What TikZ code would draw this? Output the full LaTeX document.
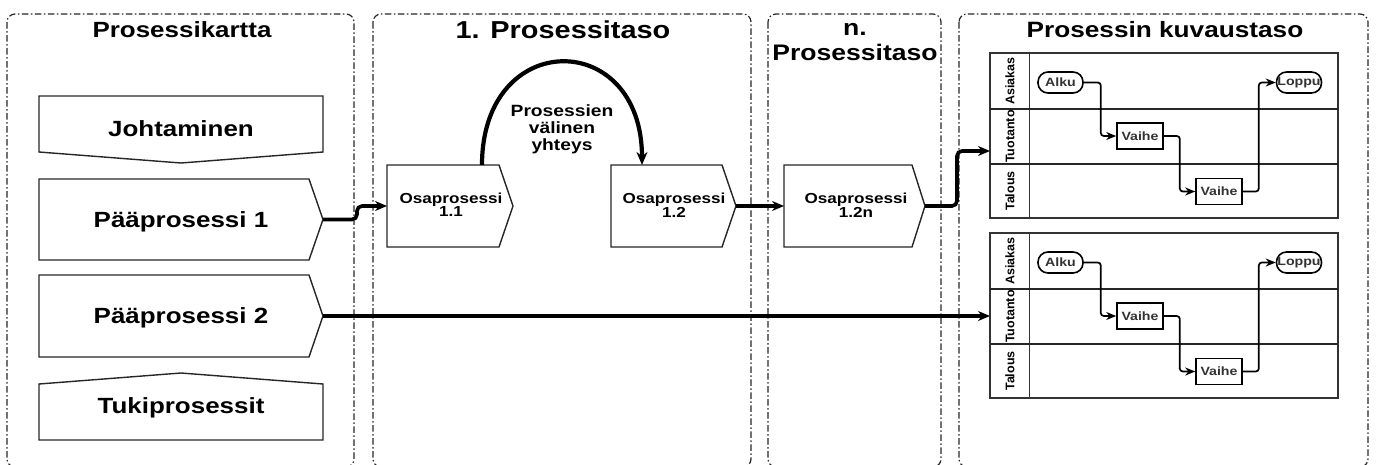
\documentclass[tikz,border=0pt]{standalone}
\usepackage{fontspec}
\setmainfont{Liberation Sans}[FakeStretch=1.18]
\newfontfamily\lanefont{Liberation Sans}
\usetikzlibrary{arrows.meta,calc}
\begin{document}
\begin{tikzpicture}[x=1pt,y=-1pt,
  container/.style={draw=black!85, line width=1.2pt, rounded corners=8pt,
    dash pattern=on 6.5pt off 2.5pt on 1.5pt off 2.5pt},
  outline/.style={draw=black!85, line width=1.4pt, fill=white, line join=miter},
  title/.style={inner sep=0pt, anchor=base, font=\bfseries\fontsize{#1}{#1}\selectfont},
  title/.default=22,
  boxtext/.style={inner sep=0pt, anchor=base, font=\bfseries\fontsize{22}{22}\selectfont},
  subtext/.style={inner sep=0pt, align=center, font=\bfseries\fontsize{14.5}{13}\selectfont},
  linktext/.style={inner sep=0pt, align=center, font=\bfseries\fontsize{16.3}{17}\selectfont},
  flow/.style={line width=3.6pt, rounded corners=5pt, -{Stealth[length=12pt,width=10pt]}},
  linkflow/.style={line width=4.2pt, -{Stealth[length=13pt,width=11pt]}},
  poolline/.style={draw=black!80, line width=1.2pt},
  laneline/.style={draw=black!85, line width=1.5pt},
  lanelabel/.style={inner sep=0pt, rotate=90, font=\lanefont\bfseries\fontsize{12.5}{12.5}\selectfont},
  terminal/.style={draw, line width=1.6pt, rounded corners=10pt, minimum width=45pt,
    minimum height=21pt, inner sep=0pt, fill=white, text=black!80,
    font=\bfseries\fontsize{12}{12}\selectfont},
  stepbox/.style={draw, line width=1.6pt, minimum width=46pt, minimum height=26pt,
    inner sep=0pt, fill=white, text=black!80, font=\bfseries\fontsize{12}{12}\selectfont},
  lanearrow/.style={line width=1.7pt, rounded corners=3pt, -{Stealth[length=10pt,width=8pt]}}
]
\useasboundingbox (0,0) rectangle (1376,464);

% four framed columns
\draw[container] (7,14) rectangle (354,467);
\draw[container] (373,14) rectangle (751,467);
\draw[container] (768,14) rectangle (941,467);
\draw[container] (959,14) rectangle (1368,467);

\node[title] (t1) at (182,37) {Prosessikartta};
\node[title=24.5] (t2) at (563,38) {1. Prosessitaso};
\node[title=22.5] (t3a) at (855,35) {n.};
\node[title=22.5] (t3b) at (855,60) {Prosessitaso};
\node[title=22.2] (t4) at (1165,37) {Prosessin kuvaustaso};

% process map
\draw[outline] (39,96) -- (323,96) -- (323,152) -- (181,163) -- (39,152) -- cycle;
\node[boxtext] (johto) at (181,136) {Johtaminen};

\draw[outline] (39,179) -- (309,179) -- (323,219.5) -- (309,260) -- (39,260) -- cycle;
\coordinate (pp1 tip) at (323,219.5);
\node[boxtext] (pp1) at (181,227) {Pääprosessi 1};

\draw[outline] (39,275) -- (309,275) -- (323,316) -- (309,357) -- (39,357) -- cycle;
\coordinate (pp2 tip) at (323,316);
\node[boxtext] (pp2) at (181,323.5) {Pääprosessi 2};

\draw[outline] (39,384) -- (181,373) -- (323,384) -- (323,440) -- (39,440) -- cycle;
\node[boxtext] (tuki) at (181,413) {Tukiprosessit};

% sub-processes
\draw[outline] (387,165) -- (499,165) -- (513,206) -- (499,247) -- (387,247) -- cycle;
\coordinate (o11 in) at (387,206);
\coordinate (o11 tip) at (513,206);
\coordinate (o11 top) at (482,165);
\node[subtext] (o11) at (451,205) {Osaprosessi\\1.1};

\draw[outline] (611,165) -- (722,165) -- (736,206) -- (722,247) -- (611,247) -- cycle;
\coordinate (o12 in) at (611,206);
\coordinate (o12 tip) at (736,206);
\coordinate (o12 top) at (642,165);
\node[subtext] (o12) at (674,205) {Osaprosessi\\1.2};

\draw[outline] (784,165) -- (912,165) -- (925,206) -- (912,247) -- (784,247) -- cycle;
\coordinate (o1n in) at (784,206);
\coordinate (o1n tip) at (925,206);
\node[subtext] (o1n) at (856,205) {Osaprosessi\\1.2n};

\node[linktext] (link) at (562,129) {Prosessien\\välinen\\yhteys};

% swimlane pools
\foreach \p/\dy in {1/0,2/180}{
  \draw[poolline] (990,53+\dy) rectangle (1338,218+\dy);
  \draw[poolline] (1029.5,53+\dy) -- (1029.5,218+\dy);
  \draw[laneline] (990,109+\dy) -- (1338,109+\dy);
  \draw[laneline] (990,164+\dy) -- (1338,164+\dy);
  \node[lanelabel] (asiakas\p) at (1010,81+\dy) {Asiakas};
  \node[lanelabel] (tuotanto\p) at (1010,136.5+\dy) {Tuotanto};
  \node[lanelabel] (talous\p) at (1010,191+\dy) {Talous};
  \node[terminal] (alku\p) at (1060.5,82.5+\dy) {Alku};
  \node[terminal] (loppu\p) at (1299,82.5+\dy) {Loppu};
  \node[stepbox] (va\p) at (1140,136+\dy) {Vaihe};
  \node[stepbox] (vb\p) at (1219,191.5+\dy) {Vaihe};
  \draw[lanearrow] (alku\p.east) -- ++(17,0) |- (va\p.west);
  \draw[lanearrow] (va\p.east) -- ++(16,0) |- (vb\p.west);
  \draw[lanearrow] (vb\p.east) -- ++(16,0) |- (loppu\p.west);
}
\coordinate (pool1 in) at (990,151);
\coordinate (pool2 in) at (990,316);

% connections between levels
\draw[flow] (pp1 tip) -- ++(34,0) |- (o11 in);
\draw[linkflow] (o11 top) .. controls (482,28) and (642,28) .. (o12 top);
\draw[flow] (o12 tip) -- (o1n in);
\draw[flow] (o1n tip) -- ++(32,0) |- (pool1 in);
\draw[flow] (pp2 tip) -- (pool2 in);
\end{tikzpicture}
\end{document}
